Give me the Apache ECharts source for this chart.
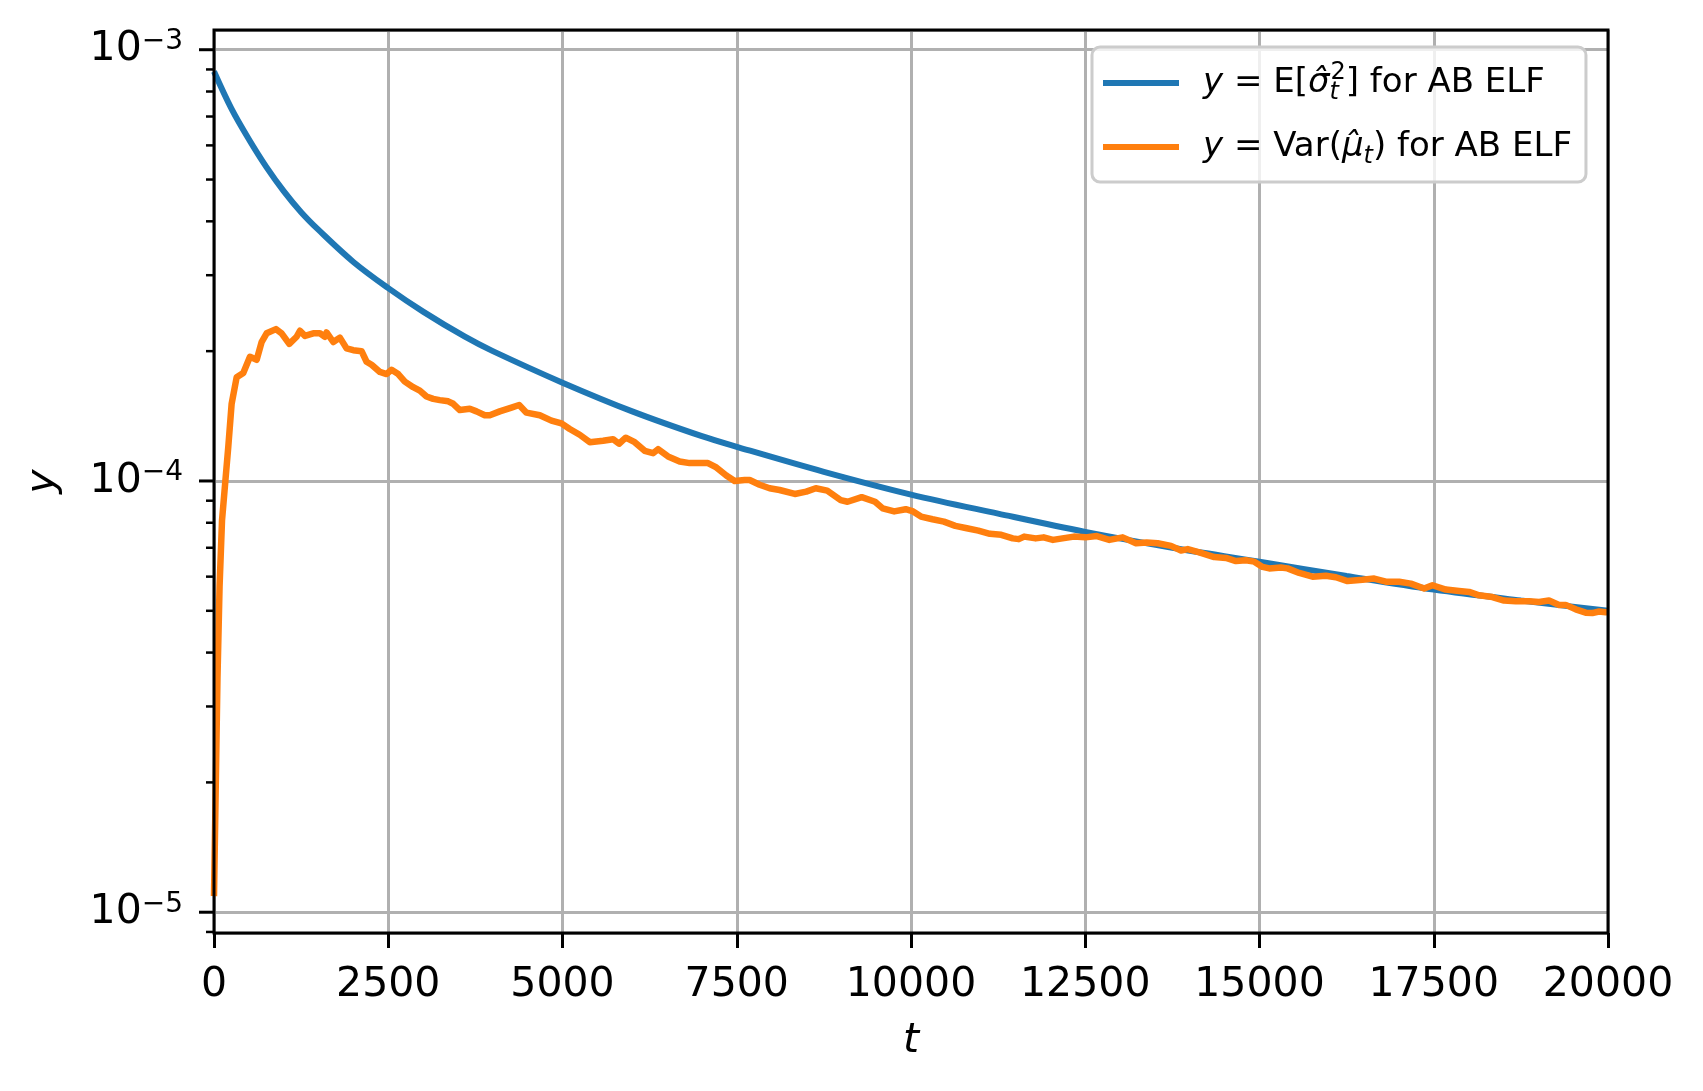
<!DOCTYPE html>
<html>
<head>
<meta charset="utf-8">
<script src="https://cdn.jsdelivr.net/npm/echarts@6/dist/echarts.min.js"></script>
<style>
  html, body { margin: 0; padding: 0; background: #fff; }
  #chart { width: 1703px; height: 1091px; }
</style>
</head>
<body>
<div id="chart"></div>
<script>
const FONT = 'DejaVu Sans'

// x ticks (t)
const xTicks = [0, 2500, 5000, 7500, 10000, 12500, 15000, 17500, 20000]
// major y ticks (decades)
const yMajor = [1e-5, 1e-4, 1e-3]

// y = E[sigma_t^2] for AB ELF
const blueT = [0, 250, 500, 750, 1000, 1250, 1500, 2000, 2500, 3000, 3600, 4000, 5000, 6000, 7000, 7500,
  8750, 10000, 11250, 12500, 13750, 15000, 16250, 17500, 18750, 20000]
const blueY = [8.9e-4, 7.3e-4, 6.2e-4, 5.35e-4, 4.7e-4, 4.2e-4, 3.82e-4, 3.22e-4, 2.8e-4, 2.47e-4, 2.16e-4, 2.0e-4,
  1.69e-4, 1.45e-4, 1.27e-4, 1.2e-4, 1.05e-4, 9.3e-5, 8.4e-5, 7.62e-5, 7.0e-5, 6.5e-5, 6.02e-5, 5.6e-5, 5.28e-5, 5.0e-5]

// y = Var(mu_t) for AB ELF
const orangeT = [0, 50, 80, 115, 163, 205, 253, 325, 420, 516, 612, 683, 755, 889, 970, 1080, 1185, 1233, 1305,
  1424, 1519, 1591, 1615, 1711, 1806, 1902, 1998, 2117, 2189, 2261, 2380, 2476, 2547, 2643, 2738, 2858, 2953,
  3049, 3145, 3240, 3360, 3432, 3527, 3670, 3766, 3885, 3957, 4100, 4268, 4378, 4483, 4674, 4841, 4985, 5104,
  5247, 5391, 5582, 5725, 5811, 5907, 6036, 6179, 6299, 6371, 6514, 6681, 6824, 6968, 7087, 7207, 7350, 7470,
  7613, 7685, 7828, 7971, 8115, 8333, 8497, 8634, 8798, 8991, 9090, 9293, 9484, 9594, 9759, 9924, 10030, 10143,
  10308, 10472, 10636, 10801, 10966, 11131, 11295, 11460, 11546, 11624, 11789, 11903, 12036, 12173, 12337, 12502,
  12667, 12846, 13037, 13228, 13380, 13539, 13730, 13874, 13970, 14136, 14351, 14519, 14662, 14805, 14925, 15044,
  15140, 15307, 15402, 15570, 15761, 15952, 16096, 16263, 16478, 16645, 16813, 17004, 17171, 17362, 17481, 17673,
  17864, 18007, 18150, 18341, 18509, 18676, 18867, 19011, 19154, 19298, 19393, 19537, 19680, 19775, 19871, 19967, 20000]
const orangeY = [1.09e-5, 3.5e-5, 5.7e-5, 8.1e-5, 1.0e-4, 1.2e-4, 1.51e-4, 1.74e-4, 1.78e-4, 1.94e-4, 1.91e-4,
  2.10e-4, 2.20e-4, 2.25e-4, 2.20e-4, 2.08e-4, 2.16e-4, 2.23e-4, 2.17e-4, 2.20e-4, 2.20e-4, 2.16e-4, 2.21e-4,
  2.10e-4, 2.15e-4, 2.03e-4, 2.01e-4, 2.0e-4, 1.89e-4, 1.86e-4, 1.79e-4, 1.77e-4, 1.81e-4, 1.77e-4, 1.70e-4,
  1.65e-4, 1.62e-4, 1.57e-4, 1.55e-4, 1.54e-4, 1.53e-4, 1.51e-4, 1.46e-4, 1.47e-4, 1.45e-4, 1.42e-4, 1.42e-4,
  1.45e-4, 1.48e-4, 1.50e-4, 1.44e-4, 1.42e-4, 1.38e-4, 1.36e-4, 1.32e-4, 1.28e-4, 1.23e-4, 1.24e-4, 1.25e-4,
  1.22e-4, 1.26e-4, 1.23e-4, 1.175e-4, 1.16e-4, 1.185e-4, 1.14e-4, 1.11e-4, 1.10e-4, 1.10e-4, 1.10e-4, 1.075e-4,
  1.03e-4, 1.0e-4, 1.005e-4, 1.005e-4, 9.8e-5, 9.62e-5, 9.53e-5, 9.33e-5, 9.45e-5, 9.62e-5, 9.5e-5, 9.03e-5,
  8.95e-5, 9.17e-5, 8.95e-5, 8.64e-5, 8.5e-5, 8.6e-5, 8.5e-5, 8.27e-5, 8.15e-5, 8.05e-5, 7.87e-5, 7.77e-5,
  7.67e-5, 7.54e-5, 7.5e-5, 7.36e-5, 7.33e-5, 7.43e-5, 7.36e-5, 7.4e-5, 7.3e-5, 7.36e-5, 7.43e-5, 7.4e-5,
  7.45e-5, 7.3e-5, 7.4e-5, 7.17e-5, 7.2e-5, 7.17e-5, 7.07e-5, 6.9e-5, 6.95e-5, 6.83e-5, 6.66e-5, 6.63e-5,
  6.52e-5, 6.55e-5, 6.5e-5, 6.32e-5, 6.27e-5, 6.3e-5, 6.27e-5, 6.12e-5, 6.0e-5, 6.03e-5, 5.98e-5, 5.86e-5,
  5.9e-5, 5.94e-5, 5.84e-5, 5.84e-5, 5.78e-5, 5.63e-5, 5.73e-5, 5.6e-5, 5.56e-5, 5.53e-5, 5.43e-5, 5.38e-5,
  5.28e-5, 5.26e-5, 5.26e-5, 5.24e-5, 5.28e-5, 5.16e-5, 5.16e-5, 5.04e-5, 4.95e-5, 4.94e-5, 4.98e-5, 4.96e-5, 4.97e-5]

const Y_MIN = 8.95e-6
const Y_MAX = 1.111e-3

const LEGEND_TEXT = {
  E: '{i|y}{n| = E[}{i|σ\u0302}{sbz|t}{sp|2}{n|] for AB ELF}',
  Var: '{i|y}{n| = Var(}{i|μ\u0302}{sb|t}{n|) for AB ELF}',
}

const decadeLabel = (v) => {
  const p = Math.log10(v)
  if (Math.abs(p - Math.round(p)) > 1e-6) return ''
  const e = String(Math.round(p)).replace('-', '−')
  return '{b|10}{s|' + e + '}'
}

const chart = echarts.init(document.getElementById('chart'))

const option = {
  animation: false,
  backgroundColor: '#fff',
  grid: { left: 214, right: 95, top: 30, bottom: 158, containLabel: false },
  legend: {
    orient: 'vertical',
    left: 1092,
    top: 47,
    data: ['E', 'Var'],
    icon: 'rect',
    itemWidth: 76,
    itemHeight: 6,
    itemGap: 20,
    padding: [14, 14, 13, 11],
    backgroundColor: 'rgba(255,255,255,0.8)',
    borderColor: '#cccccc',
    borderWidth: 3,
    borderRadius: 8,
    formatter: (name) => LEGEND_TEXT[name],
    textStyle: {
      fontFamily: FONT,
      fontSize: 34,
      color: '#000',
      lineHeight: 44,
      padding: [0, 0, 0, 19],
      rich: {
        i: { fontFamily: FONT, fontSize: 34, fontStyle: 'italic', color: '#000', lineHeight: 44 },
        n: { fontFamily: FONT, fontSize: 34, color: '#000', lineHeight: 44 },
        sp: { fontFamily: FONT, fontSize: 24, color: '#000', lineHeight: 22, verticalAlign: 'top' },
        sb: { fontFamily: FONT, fontSize: 24, fontStyle: 'italic', color: '#000', lineHeight: 18, verticalAlign: 'bottom' },
        sbz: { fontFamily: FONT, fontSize: 24, fontStyle: 'italic', color: '#000', lineHeight: 18, verticalAlign: 'bottom', width: 1 },
      },
    },
  },
  xAxis: {
    type: 'value',
    min: 0,
    max: 20000,
    interval: 2500,
    name: 't',
    nameLocation: 'middle',
    nameGap: 88,
    nameTextStyle: { fontFamily: FONT, fontSize: 41, fontStyle: 'italic', color: '#000' },
    axisLine: { show: false },
    axisTick: { show: true, length: 15, lineStyle: { color: '#000', width: 3 } },
    axisLabel: { fontFamily: FONT, fontSize: 41, color: '#000', margin: 32, formatter: (v) => String(v) },
    splitLine: { show: true, lineStyle: { color: '#b0b0b0', width: 3 } },
  },
  yAxis: {
    type: 'log',
    logBase: 10,
    min: Y_MIN,
    max: Y_MAX,
    name: 'y',
    nameLocation: 'middle',
    nameRotate: 90,
    nameGap: 150,
    nameTextStyle: { fontFamily: FONT, fontSize: 41, fontStyle: 'italic', color: '#000' },
    axisLine: { show: false },
    axisTick: { show: false },
    axisLabel: {
      margin: 31,
      formatter: decadeLabel,
      rich: {
        b: { fontFamily: FONT, fontSize: 41, color: '#000', lineHeight: 44 },
        s: { fontFamily: FONT, fontSize: 28, color: '#000', lineHeight: 20, verticalAlign: 'top' },
      },
    },
    splitLine: { show: true, lineStyle: { color: '#b0b0b0', width: 3 } },
  },
  series: [
    {
      name: 'E',
      type: 'line',
      symbol: 'none',
      smooth: 0.35,
      lineStyle: { color: '#1f77b4', width: 6 },
      itemStyle: { color: '#1f77b4' },
      data: blueT.map((t, i) => [t, blueY[i]]),
    },
    {
      name: 'Var',
      type: 'line',
      symbol: 'none',
      lineStyle: { color: '#ff7f0e', width: 6.5, join: 'round' },
      itemStyle: { color: '#ff7f0e' },
      data: orangeT.map((t, i) => [t, orangeY[i]]),
    },
  ],
}

chart.setOption(option)

// ticks on the log axis and the four spines
const px = (v) => chart.convertToPixel({ yAxisIndex: 0 }, v)
const x0 = chart.convertToPixel({ xAxisIndex: 0 }, 0)
const x1 = chart.convertToPixel({ xAxisIndex: 0 }, 20000)
const yTop = px(Y_MAX)
const yBot = px(Y_MIN)

const yMinor = []
for (let k = -6; k <= -3; k++) {
  for (let m = 2; m <= 9; m++) {
    const v = m * Math.pow(10, k)
    if (v >= Y_MIN && v <= Y_MAX) yMinor.push(v)
  }
}

const marks = []
yMajor.forEach((v) => {
  const y = px(v)
  marks.push({ type: 'line', z: 100, shape: { x1: x0 - 15, y1: y, x2: x0, y2: y }, style: { stroke: '#000', lineWidth: 3 } })
})
yMinor.forEach((v) => {
  const y = px(v)
  marks.push({ type: 'line', z: 100, shape: { x1: x0 - 8, y1: y, x2: x0, y2: y }, style: { stroke: '#000', lineWidth: 2.5 } })
})
marks.push({
  type: 'rect', z: 100,
  shape: { x: x0, y: yTop, width: x1 - x0, height: yBot - yTop },
  style: { fill: null, stroke: '#000', lineWidth: 3 },
})
chart.setOption({ graphic: marks })
</script>
</body>
</html>
